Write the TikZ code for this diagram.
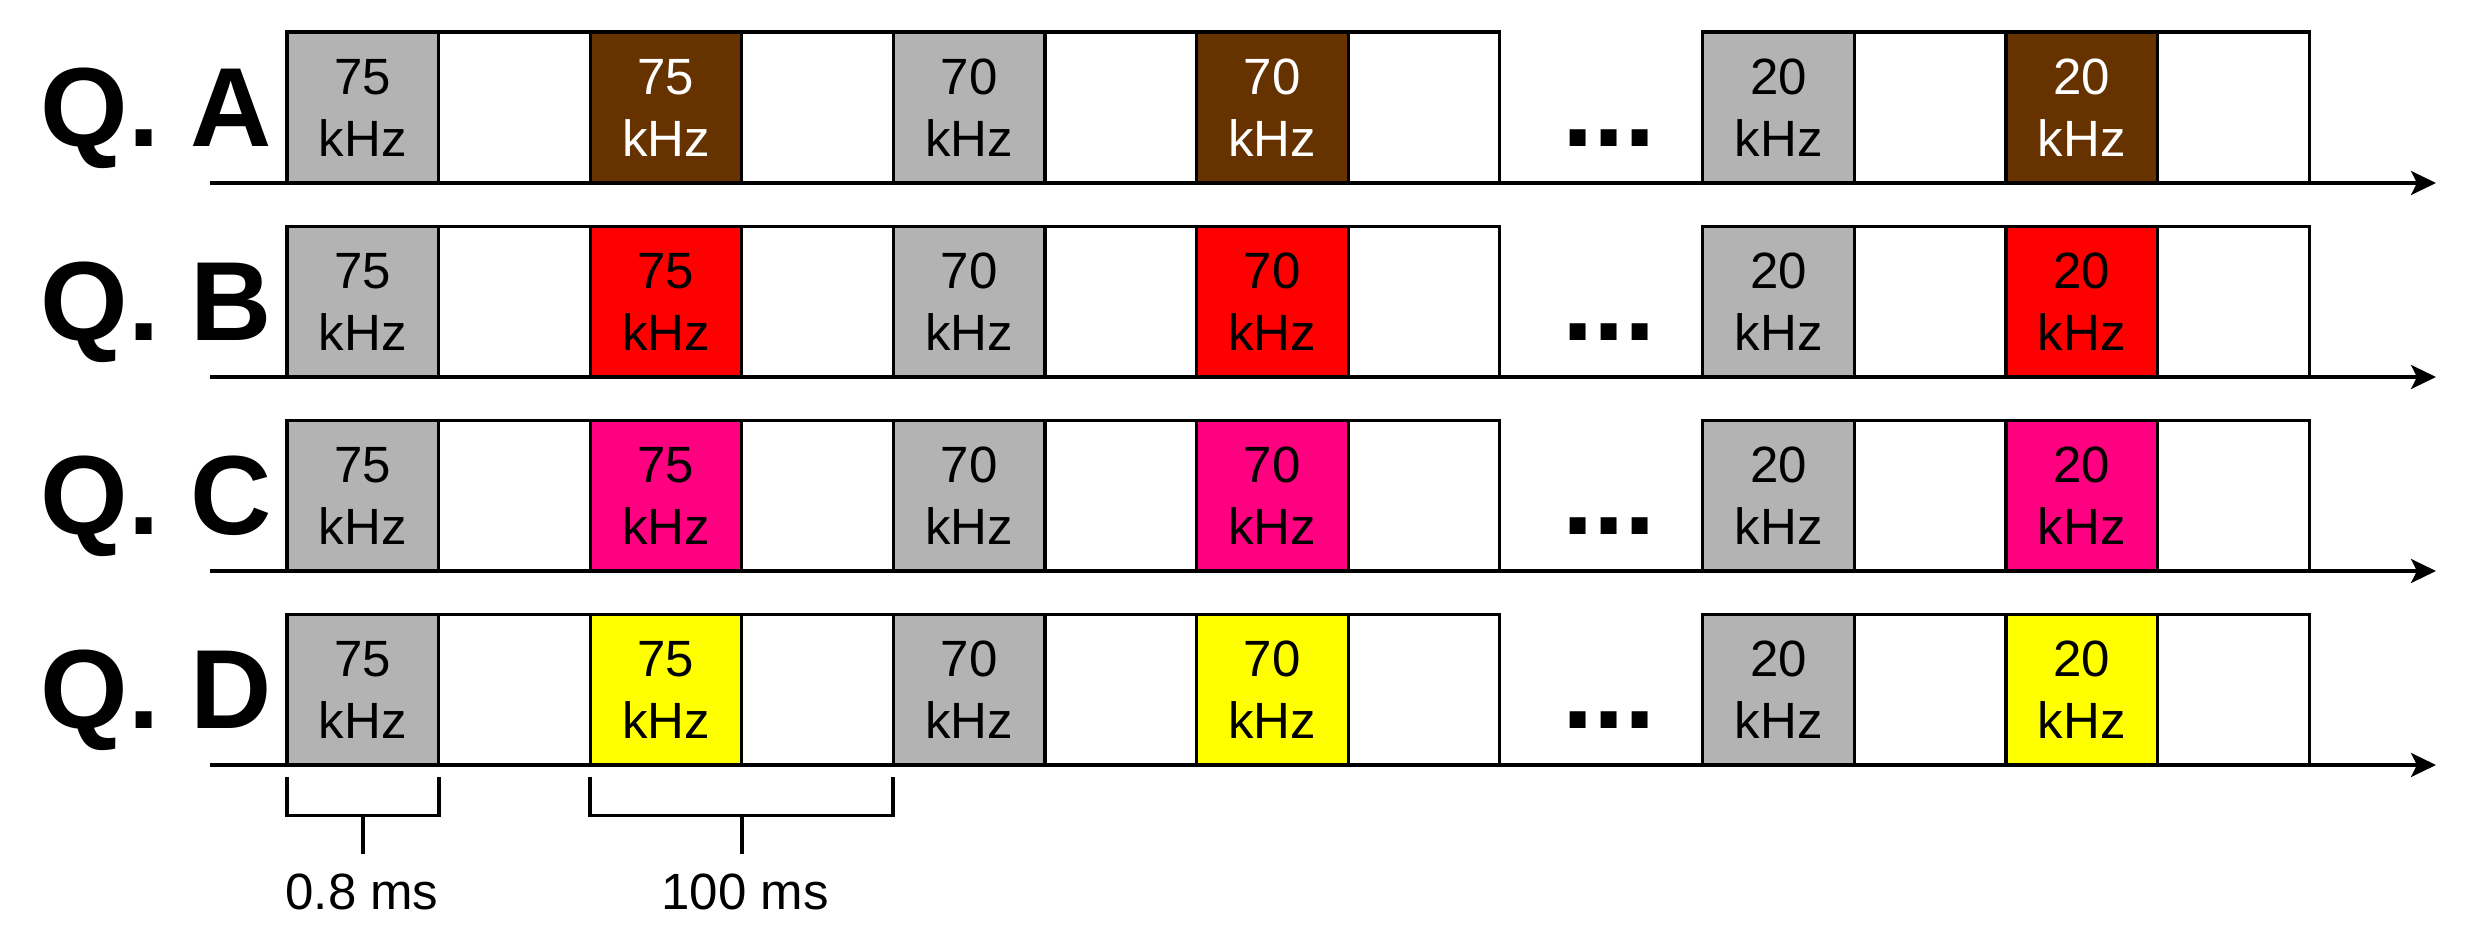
\documentclass[tikz,border=0pt]{standalone}
\usepackage{fontspec}
\setmainfont{Liberation Sans}
\usetikzlibrary{positioning,arrows.meta}
\definecolor{refgray}{RGB}{179,179,179}
\definecolor{tonebrown}{RGB}{102,51,0}
\definecolor{tonered}{RGB}{255,0,0}
\definecolor{tonepink}{RGB}{255,0,128}
\definecolor{toneyellow}{RGB}{255,255,0}
\begin{document}
\begin{tikzpicture}[x=0.01cm, y=-0.01cm,
  every node/.style = {inner sep=0pt, outer sep=0pt},
  cell/.style = {draw, line width=0.9pt,
    minimum width=1.515cm, minimum height=1.51cm,
    align=center, font=\fontsize{14.5}{17.6}\selectfont},
  ref/.style = {cell, fill=refgray},
  brownbox/.style = {cell, fill=tonebrown, text=white},
  redbox/.style = {cell, fill=tonered},
  pinkbox/.style = {cell, fill=tonepink},
  yellowbox/.style = {cell, fill=toneyellow},
  qlabel/.style = {font=\fontsize{32}{38}\selectfont\bfseries},
  note/.style = {font=\fontsize{14.5}{17.6}\selectfont},
  axis/.style = {line width=0.9pt,
    -{Stealth[length=0.25cm, width=0.24cm, inset=0.06cm]}},
  brace/.style = {line width=1.1pt}]
\useasboundingbox (0,0) rectangle (2471,937);
% row A
\node[ref, anchor=north west] (a1) at (287,32) {75\\kHz};
\node[cell, right=0pt of a1] (a2) {};
\node[brownbox, right=0pt of a2] (a3) {75\\kHz};
\node[cell, right=0pt of a3] (a4) {};
\node[ref, right=0pt of a4] (a5) {70\\kHz};
\node[cell, right=0pt of a5] (a6) {};
\node[brownbox, right=0pt of a6] (a7) {70\\kHz};
\node[cell, right=0pt of a7] (a8) {};
\node[ref, right=2.03cm of a8] (a9) {20\\kHz};
\node[cell, right=0pt of a9] (a10) {};
\node[brownbox, right=0pt of a10] (a11) {20\\kHz};
\node[cell, right=0pt of a11] (a12) {};
% row B
\node[ref, below=0.43cm of a1] (b1) {75\\kHz};
\node[cell, right=0pt of b1] (b2) {};
\node[redbox, right=0pt of b2] (b3) {75\\kHz};
\node[cell, right=0pt of b3] (b4) {};
\node[ref, right=0pt of b4] (b5) {70\\kHz};
\node[cell, right=0pt of b5] (b6) {};
\node[redbox, right=0pt of b6] (b7) {70\\kHz};
\node[cell, right=0pt of b7] (b8) {};
\node[ref, right=2.03cm of b8] (b9) {20\\kHz};
\node[cell, right=0pt of b9] (b10) {};
\node[redbox, right=0pt of b10] (b11) {20\\kHz};
\node[cell, right=0pt of b11] (b12) {};
% row C
\node[ref, below=0.43cm of b1] (c1) {75\\kHz};
\node[cell, right=0pt of c1] (c2) {};
\node[pinkbox, right=0pt of c2] (c3) {75\\kHz};
\node[cell, right=0pt of c3] (c4) {};
\node[ref, right=0pt of c4] (c5) {70\\kHz};
\node[cell, right=0pt of c5] (c6) {};
\node[pinkbox, right=0pt of c6] (c7) {70\\kHz};
\node[cell, right=0pt of c7] (c8) {};
\node[ref, right=2.03cm of c8] (c9) {20\\kHz};
\node[cell, right=0pt of c9] (c10) {};
\node[pinkbox, right=0pt of c10] (c11) {20\\kHz};
\node[cell, right=0pt of c11] (c12) {};
% row D
\node[ref, below=0.43cm of c1] (d1) {75\\kHz};
\node[cell, right=0pt of d1] (d2) {};
\node[yellowbox, right=0pt of d2] (d3) {75\\kHz};
\node[cell, right=0pt of d3] (d4) {};
\node[ref, right=0pt of d4] (d5) {70\\kHz};
\node[cell, right=0pt of d5] (d6) {};
\node[yellowbox, right=0pt of d6] (d7) {70\\kHz};
\node[cell, right=0pt of d7] (d8) {};
\node[ref, right=2.03cm of d8] (d9) {20\\kHz};
\node[cell, right=0pt of d9] (d10) {};
\node[yellowbox, right=0pt of d10] (d11) {20\\kHz};
\node[cell, right=0pt of d11] (d12) {};
% labels and dots
\node[qlabel, anchor=base east] (qa) at (272,147) {Q. A};
\node[qlabel, anchor=base east] (qb) at (272,341) {Q. B};
\node[qlabel, anchor=base east] (qc) at (272,535) {Q. C};
\node[qlabel, anchor=base east] (qd) at (272,729) {Q. D};
\node[qlabel, anchor=base] (da) at (1609,147) {...};
\node[qlabel, anchor=base] (db) at (1609,341) {...};
\node[qlabel, anchor=base] (dc) at (1609,535) {...};
\node[qlabel, anchor=base] (dd) at (1609,729) {...};
% time axes
\coordinate (sa) at (210,183);
\coordinate (ea) at (2436,183);
\coordinate (sb) at (210,377);
\coordinate (eb) at (2436,377);
\coordinate (sc) at (210,571);
\coordinate (ec) at (2436,571);
\coordinate (sd) at (210,765);
\coordinate (ed) at (2436,765);
\draw[axis] (sa) -- (ea);
\draw[axis] (sb) -- (eb);
\draw[axis] (sc) -- (ec);
\draw[axis] (sd) -- (ed);
% durations
\node[note, anchor=base] (w1) at (362,910) {0.8 ms};
\node[note, anchor=base] (w2) at (745,910) {100 ms};
\draw[brace] ([yshift=-0.12cm]d1.south west) -- ([yshift=-0.5cm]d1.south west)
  -- ([yshift=-0.5cm]d1.south east) -- ([yshift=-0.12cm]d1.south east);
\draw[brace] ([yshift=-0.5cm]d1.south) -- ([yshift=0.2cm]d1.south |- w1.north);
\draw[brace] ([yshift=-0.12cm]d3.south west) -- ([yshift=-0.5cm]d3.south west)
  -- ([yshift=-0.5cm]d4.south east) -- ([yshift=-0.12cm]d4.south east);
\draw[brace] ([yshift=-0.5cm]d3.south east) -- ([yshift=0.2cm]d3.south east |- w2.north);
\end{tikzpicture}
\end{document}
